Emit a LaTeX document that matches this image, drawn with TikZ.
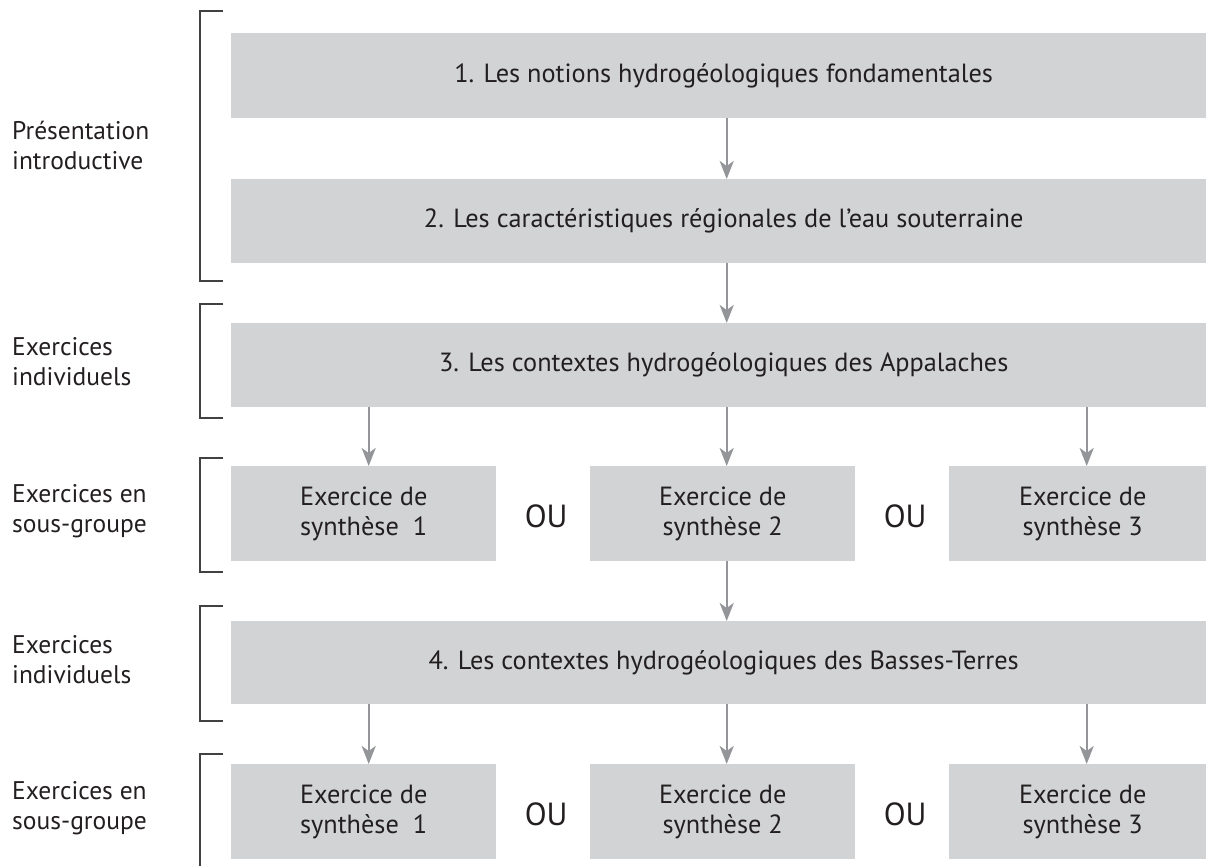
\documentclass[tikz,border=0pt]{standalone}
\usepackage{fontspec}
\setmainfont{PT Sans}
\usetikzlibrary{arrows.meta,calc}
\definecolor{boxgray}{RGB}{209,211,212}
\definecolor{arrgray}{RGB}{147,149,152}
\definecolor{brkcol}{RGB}{65,64,66}
\definecolor{txtcol}{RGB}{35,31,32}
\newcommand{\fsmain}{\fontsize{26.3}{30}\selectfont}
\newcommand{\fslab}{\fontsize{25.5}{30}\selectfont}
\newcommand{\fsou}{\fontsize{32}{36}\selectfont}
\begin{document}
\begin{tikzpicture}[x=1pt,y=-1pt,
  box/.style={fill=boxgray, inner sep=0pt, anchor=north west, text=txtcol, font=\fsmain, align=center},
  wide/.style={box, minimum width=985pt},
  small/.style={box, minimum width=265pt, minimum height=95pt},
  arr/.style={draw=arrgray, line width=2.4pt, -{Stealth[length=18pt,width=14pt,inset=5pt]}},
  brk/.style={draw=brkcol, line width=1.5pt},
  lab/.style={anchor=west, align=left, font=\fslab, text=txtcol, inner sep=0pt},
  ou/.style={font=\fsou, text=txtcol, inner sep=0pt}]
\useasboundingbox (0,0) rectangle (1206,865);
% main boxes
\node[wide, minimum height=85pt] (b1) at (231,33) {1. Les notions hydrogéologiques fondamentales};
\node[wide, minimum height=84pt] (b2) at (231,179) {2. Les caractéristiques régionales de l’eau souterraine};
\node[wide, minimum height=84pt] (b3) at (231,323) {3. Les contextes hydrogéologiques des Appalaches};
\node[small] (sA) at (231,466) {Exercice de\\synthèse~ 1};
\node[small] (sB) at (590,466) {Exercice de\\synthèse 2};
\node[small, minimum width=267pt] (sC) at (949,466) {Exercice de\\synthèse 3};
\node[wide, minimum height=83pt] (b4) at (231,621) {4. Les contextes hydrogéologiques des Basses-Terres};
\node[small] (tA) at (231,764) {Exercice de\\synthèse~ 1};
\node[small] (tB) at (590,764) {Exercice de\\synthèse 2};
\node[small, minimum width=267pt] (tC) at (949,764) {Exercice de\\synthèse 3};
% OU
\node[ou] (o1) at ($(sA.east)!0.5!(sB.west)+(3,3)$) {OU};
\node[ou] (o2) at ($(sB.east)!0.5!(sC.west)+(3,3)$) {OU};
\node[ou] (o3) at ($(tA.east)!0.5!(tB.west)+(3,3)$) {OU};
\node[ou] (o4) at ($(tB.east)!0.5!(tC.west)+(3,3)$) {OU};
% arrows
\draw[arr] ([xshift=3pt]b1.south) -- ([xshift=3pt]b2.north);
\draw[arr] ([xshift=3pt]b2.south) -- ([xshift=3pt]b3.north);
\draw[arr] ([xshift=5pt]sA.north |- b3.south) -- ([xshift=5pt]sA.north);
\draw[arr] ([xshift=4pt]sB.north |- b3.south) -- ([xshift=4pt]sB.north);
\draw[arr] ([xshift=4pt]sC.north |- b3.south) -- ([xshift=4pt]sC.north);
\draw[arr] ([xshift=4pt]sB.south) -- ([xshift=4pt]sB.south |- b4.north);
\draw[arr] ([xshift=5pt]tA.north |- b4.south) -- ([xshift=5pt]tA.north);
\draw[arr] ([xshift=4pt]tB.north |- b4.south) -- ([xshift=4pt]tB.north);
\draw[arr] ([xshift=4pt]tC.north |- b4.south) -- ([xshift=4pt]tC.north);
% brackets
\draw[brk] (223,11) -- (200,11) -- (200,281) -- (223,281);
\draw[brk] (223,304) -- (200,304) -- (200,418) -- (223,418);
\draw[brk] (223,458) -- (200,458) -- (200,572) -- (223,572);
\draw[brk] (223,606) -- (200,606) -- (200,721) -- (223,721);
\draw[brk] (223,754) -- (200,754) -- (200,900);
% labels
\node[lab] (L1) at (12,145) {Présentation\\introductive};
\node[lab] (L2) at (12,362) {Exercices\\individuels};
\node[lab] (L3) at (12,511) {Exercices en\\sous-groupe};
\node[lab] (L4) at (12,660) {Exercices\\individuels};
\node[lab] (L5) at (12,808) {Exercices en\\sous-groupe};
\end{tikzpicture}
\end{document}
